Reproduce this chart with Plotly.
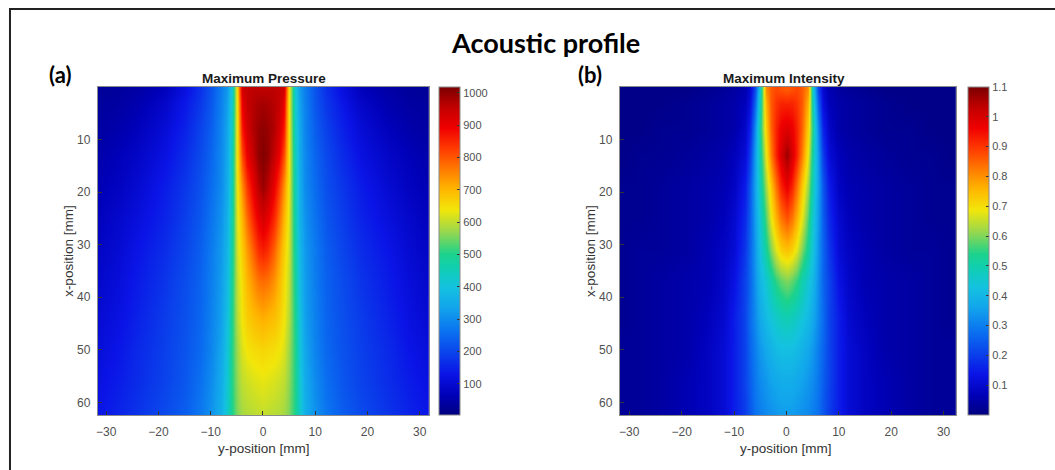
import plotly.graph_objects as go

# ---- data (symmetric beam, |y| half read, mirrored) ----
depth_mm = [0.5, 3, 8, 13, 19, 25, 31, 37, 44, 50, 56, 62]
lateral_mm = [0, 1, 2, 3, 4, 5, 6, 7, 8, 10, 12, 15, 19, 24, 28, 32]

pressure_rows = [
    [960, 960, 960, 950, 930, 650, 420, 320, 280, 220, 170, 120, 70, 45, 35, 30],
    [980, 975, 965, 950, 900, 640, 430, 330, 285, 225, 180, 135, 85, 55, 40, 35],
    [1000, 990, 970, 930, 860, 640, 440, 340, 290, 235, 195, 150, 105, 70, 50, 40],
    [1010, 995, 950, 900, 810, 640, 450, 345, 295, 245, 205, 165, 120, 85, 65, 50],
    [990, 960, 900, 830, 740, 630, 460, 350, 300, 255, 215, 180, 140, 100, 75, 60],
    [930, 900, 850, 780, 700, 620, 470, 360, 310, 265, 225, 190, 150, 115, 90, 70],
    [860, 840, 790, 730, 670, 610, 480, 370, 320, 275, 235, 200, 165, 130, 100, 80],
    [780, 770, 740, 700, 650, 600, 490, 380, 325, 280, 240, 210, 175, 140, 110, 90],
    [710, 700, 690, 670, 640, 590, 500, 395, 330, 285, 245, 215, 185, 150, 120, 100],
    [660, 655, 650, 640, 620, 575, 505, 405, 340, 290, 250, 220, 190, 160, 130, 110],
    [630, 625, 620, 610, 600, 565, 505, 415, 350, 300, 260, 225, 195, 165, 140, 120],
    [605, 600, 595, 590, 580, 555, 500, 425, 360, 310, 270, 235, 205, 175, 150, 130],
]

intensity_rows = [
    [0.86, 0.87, 0.88, 0.86, 0.80, 0.45, 0.22, 0.10, 0.06, 0.04, 0.03, 0.02, 0.01, 0.01, 0.01, 0.01],
    [0.92, 0.92, 0.90, 0.86, 0.76, 0.48, 0.26, 0.12, 0.07, 0.05, 0.04, 0.03, 0.02, 0.01, 0.01, 0.01],
    [0.99, 0.97, 0.92, 0.85, 0.72, 0.52, 0.32, 0.16, 0.09, 0.05, 0.04, 0.03, 0.02, 0.02, 0.01, 0.01],
    [1.07, 1.00, 0.92, 0.82, 0.68, 0.50, 0.35, 0.20, 0.11, 0.07, 0.05, 0.04, 0.03, 0.02, 0.02, 0.01],
    [0.97, 0.92, 0.83, 0.73, 0.62, 0.48, 0.36, 0.24, 0.15, 0.08, 0.06, 0.05, 0.04, 0.03, 0.02, 0.02],
    [0.87, 0.83, 0.76, 0.68, 0.57, 0.45, 0.35, 0.25, 0.17, 0.10, 0.07, 0.05, 0.04, 0.03, 0.02, 0.02],
    [0.74, 0.72, 0.67, 0.60, 0.52, 0.43, 0.34, 0.26, 0.19, 0.11, 0.08, 0.06, 0.04, 0.03, 0.03, 0.02],
    [0.60, 0.58, 0.55, 0.50, 0.45, 0.40, 0.33, 0.26, 0.21, 0.13, 0.09, 0.06, 0.05, 0.04, 0.03, 0.02],
    [0.49, 0.48, 0.46, 0.44, 0.41, 0.37, 0.32, 0.27, 0.21, 0.15, 0.10, 0.07, 0.05, 0.04, 0.03, 0.02],
    [0.42, 0.42, 0.41, 0.39, 0.37, 0.34, 0.30, 0.26, 0.21, 0.15, 0.11, 0.08, 0.05, 0.04, 0.03, 0.03],
    [0.38, 0.38, 0.37, 0.36, 0.34, 0.32, 0.29, 0.25, 0.21, 0.15, 0.11, 0.08, 0.06, 0.04, 0.03, 0.03],
    [0.35, 0.35, 0.34, 0.33, 0.32, 0.30, 0.28, 0.24, 0.20, 0.15, 0.11, 0.08, 0.06, 0.04, 0.03, 0.03],
]

pressure_ticks = [100, 200, 300, 400, 500, 600, 700, 800, 900, 1000]
intensity_ticks = [0.1, 0.2, 0.3, 0.4, 0.5, 0.6, 0.7, 0.8, 0.9, 1.0, 1.1]
intensity_ticktext = ["0.1", "0.2", "0.3", "0.4", "0.5", "0.6", "0.7", "0.8", "0.9", "1", "1.1"]
x_ticks = [-30, -20, -10, 0, 10, 20, 30]
y_ticks = [10, 20, 30, 40, 50, 60]

# mirror the half profiles to the full lateral axis
full_x = [-v for v in lateral_mm[:0:-1]] + lateral_mm
def full_rows(rows):
    return [r[:0:-1] + r for r in rows]

# jet-like map, tuned to the colours seen in the reference
jet = [[0.0, "#000080"], [0.06, "#0000b8"], [0.125, "#0a14e6"], [0.25, "#0a6ef0"],
       [0.33, "#12a6ec"], [0.39, "#14c2e0"], [0.45, "#10cfb0"], [0.49, "#1cd28c"],
       [0.56, "#9ad84c"], [0.625, "#f2e60a"], [0.69, "#ffb400"], [0.75, "#ff7a00"],
       [0.81, "#ff3c00"], [0.875, "#f00000"], [0.94, "#c00000"], [1.0, "#7a0000"]]

W, H = 1055, 470
def px(x):
    return x / W
def py(y):
    return 1 - y / H

top, bot = 87, 415
ydom = [py(bot), py(top)]
a_dom = [px(96), px(428)]
b_dom = [px(619), px(956)]

cb_common = dict(thickness=21, thicknessmode="pixels", len=(bot - top) / H, lenmode="fraction",
                 y=(ydom[0] + ydom[1]) / 2, yanchor="middle", xanchor="left", xpad=0, ypad=0,
                 outlinewidth=1, outlinecolor="#8a8a8a", ticks="inside", ticklen=3,
                 tickcolor="#333333", tickfont=dict(family="Liberation Sans, Arial", size=11, color="#505050"))

fig = go.Figure()
fig.add_trace(go.Heatmap(
    x=full_x, y=depth_mm, z=full_rows(pressure_rows), zsmooth="best",
    colorscale=jet, zmin=4, zmax=1018, xaxis="x", yaxis="y",
    colorbar=dict(x=px(438), tickvals=pressure_ticks, **cb_common),
))
fig.add_trace(go.Heatmap(
    x=full_x, y=depth_mm, z=full_rows(intensity_rows), zsmooth="best",
    colorscale=jet, zmin=0, zmax=1.1, xaxis="x2", yaxis="y2",
    colorbar=dict(x=px(968), tickvals=intensity_ticks, ticktext=intensity_ticktext, **cb_common),
))

axfont = dict(family="Liberation Sans, Arial", size=12, color="#505050")
ax_common = dict(showgrid=False, zeroline=False, showline=True, mirror=True, linecolor="#8a8a8a",
                 linewidth=1, ticks="inside", ticklen=4, tickcolor="#333333", tickfont=axfont)
fig.update_layout(
    width=W, height=H, margin=dict(l=0, r=0, t=0, b=0),
    paper_bgcolor="white", plot_bgcolor="white", showlegend=False,
    xaxis=dict(domain=a_dom, range=[-31.6, 31.8], tickvals=x_ticks, anchor="y", ticklabelstandoff=6, **ax_common),
    yaxis=dict(domain=ydom, range=[62.4, 0], tickvals=y_ticks, anchor="x", ticklabelstandoff=4, **ax_common),
    xaxis2=dict(domain=b_dom, range=[-31.8, 32.4], tickvals=x_ticks, anchor="y2", ticklabelstandoff=6, **ax_common),
    yaxis2=dict(domain=ydom, range=[62.4, 0], tickvals=y_ticks, anchor="x2", ticklabelstandoff=4, **ax_common),
)

ann = []
def text(x, y, s, size, fam, color="#000000", bold=False, angle=0):
    ann.append(dict(x=px(x), y=py(y), xref="paper", yref="paper", text=f"<b>{s}</b>" if bold else s,
                    showarrow=False, xanchor="center", yanchor="middle", textangle=angle,
                    font=dict(family=fam, size=size, color=color)))

text(545, 43, "Acoustic profile", 27, "Lato, Open Sans", bold=True)
text(58, 75, "(a)", 22, "Lato, Open Sans", bold=True)
text(589, 75, "(b)", 22, "Lato, Open Sans", bold=True)
text(262, 78, "Maximum Pressure", 13.5, "Liberation Sans, Arial", color="#1a1a1a", bold=True)
text(783, 78, "Maximum Intensity", 13.5, "Liberation Sans, Arial", color="#1a1a1a", bold=True)
text(262, 448, "y-position [mm]", 13.5, "Liberation Sans, Arial", color="#333333")
text(785, 448, "y-position [mm]", 13.5, "Liberation Sans, Arial", color="#333333")
text(66, 251, "x-position [mm]", 13.5, "Liberation Sans, Arial", color="#333333", angle=-90)
text(589, 251, "x-position [mm]", 13.5, "Liberation Sans, Arial", color="#333333", angle=-90)
fig.update_layout(annotations=ann)

fig.add_shape(type="rect", xref="paper", yref="paper", x0=px(8), x1=px(1070), y0=py(490), y1=py(9),
              line=dict(color="#222222", width=2), fillcolor="rgba(0,0,0,0)", layer="above")

fig.write_html("out.html")
